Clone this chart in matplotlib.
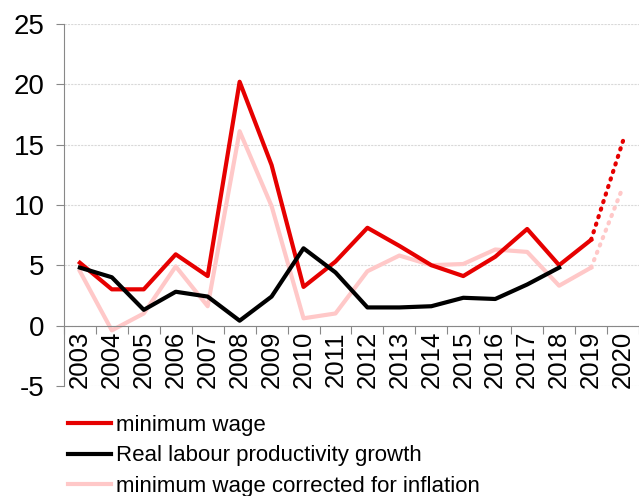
import matplotlib.pyplot as plt
import numpy as np

plt.rcParams['font.family'] = ['Liberation Sans', 'DejaVu Sans']
plt.rcParams['axes.unicode_minus'] = False

years = ['2003', '2004', '2005', '2006', '2007', '2008', '2009', '2010', '2011',
         '2012', '2013', '2014', '2015', '2016', '2017', '2018', '2019', '2020']
# minimum wage growth (%), last value is a projection
min_wage = [5.2, 3.0, 3.0, 5.9, 4.1, 20.2, 13.3, 3.2, 5.3,
            8.1, 6.6, 5.0, 4.1, 5.7, 8.0, 5.0, 7.1, 15.3]
# real labour productivity growth (%), no data for 2019-2020
productivity = [4.8, 4.0, 1.3, 2.8, 2.4, 0.4, 2.4, 6.4, 4.4,
                1.5, 1.5, 1.6, 2.3, 2.2, 3.4, 4.8]
# minimum wage corrected for inflation (%), last value is a projection
real_wage = [4.5, -0.4, 1.0, 4.9, 1.6, 16.1, 9.9, 0.6, 1.0,
             4.5, 5.8, 5.0, 5.1, 6.3, 6.1, 3.3, 4.8, 11.5]

red = '#e60000'
pink = '#ffc8c8'

fig = plt.figure(figsize=(6.39, 4.96), dpi=100)
ax = fig.add_axes([0.100, 0.222, 0.900, 0.730])

x = np.arange(len(years))
ax.plot(x[:-1], min_wage[:-1], color=red, lw=3, label='minimum wage', zorder=3)
ax.plot(x[:len(productivity)], productivity, color='black', lw=3,
        label='Real labour productivity growth', zorder=3)
ax.plot(x[:-1], real_wage[:-1], color=pink, lw=3,
        label='minimum wage corrected for inflation', zorder=2)
# projected 2020 values as dotted segments
ax.plot(x[-2:], min_wage[-2:], color=red, lw=3, ls=(0, (0.3, 1.6)),
        dash_capstyle='round', zorder=3)
ax.plot(x[-2:], real_wage[-2:], color=pink, lw=3, ls=(0, (0.3, 1.6)),
        dash_capstyle='round', zorder=2)

ax.set_xlim(-0.5, len(years) - 0.5)
ax.set_ylim(-5, 25)
ax.set_yticks(range(-5, 26, 5))
ax.yaxis.grid(True, color='#d9d9d9', lw=0.8, ls=(0, (2, 1)))
ax.set_axisbelow(True)

ax.spines['top'].set_visible(False)
ax.spines['right'].set_visible(False)
ax.spines['left'].set_color('#888888')
ax.spines['bottom'].set_color('#888888')
ax.spines['bottom'].set_position(('data', 0))

ax.set_xticks(np.arange(-0.5, len(years), 1))
ax.set_xticklabels([])
ax.set_xticks(x, minor=True)
ax.set_xticklabels(years, minor=True, rotation=90, fontsize=18.5)
ax.tick_params(axis='x', which='major', length=6, color='#888888', direction='out')
ax.tick_params(axis='x', which='minor', length=0, pad=4)
ax.tick_params(axis='y', length=6, color='#888888', labelsize=20, pad=8)

fig.legend(loc='upper left', bbox_to_anchor=(0.106, 0.163), frameon=False,
           fontsize=16, handlelength=1.95, handletextpad=0.2, labelspacing=0.42,
           borderaxespad=0, borderpad=0)

fig.savefig('out.png')
